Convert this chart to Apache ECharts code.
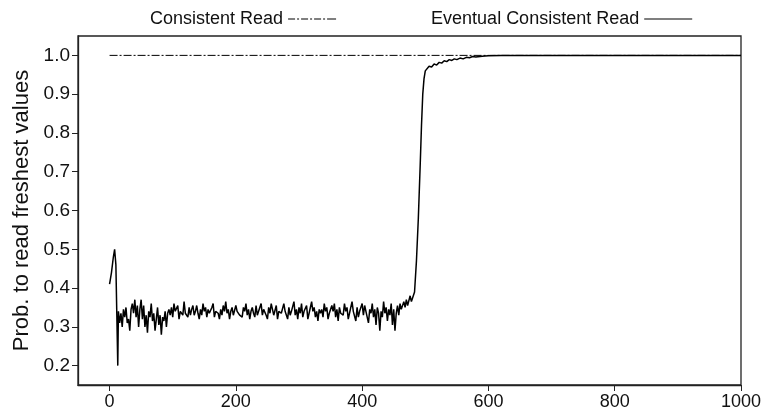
<!DOCTYPE html>
<html>
<head>
<meta charset="utf-8">
<script src="https://cdn.jsdelivr.net/npm/echarts@6/dist/echarts.min.js"></script>
<style>
html,body{margin:0;padding:0;background:#fff;}
#chart{width:765px;height:414px;}
</style>
</head>
<body>
<div id="chart"></div>
<script>
var seriesNames = ['Consistent Read', 'Eventual Consistent Read'];
var xTicks = [0, 200, 400, 600, 800, 1000];
var yTicks = [0.2, 0.3, 0.4, 0.5, 0.6, 0.7, 0.8, 0.9, 1.0];

var consistentX = [0, 1000];
var consistentY = [1.0, 1.0];

var eventualX = [
  0, 3, 6, 8, 10, 11.5, 13,
  14, 16, 18, 20, 22, 24, 26, 28, 30, 32, 34, 36, 38, 40, 42, 44, 46, 48, 50, 52,
  54, 56, 58, 60, 62, 64, 66, 68, 70, 72, 74, 76, 78, 80, 82, 84, 86, 88, 90, 92,
  94, 96, 98, 100, 102, 104, 106, 108, 110, 112, 114, 116, 118, 120, 122, 124, 126, 128, 130, 132,
  134, 136, 138, 140, 142, 144, 146, 148, 150, 152, 154, 156, 158, 160, 162, 164, 166, 168, 170, 172,
  174, 176, 178, 180, 182, 184, 186, 188, 190, 192, 194, 196, 198, 200, 202, 204, 206, 208, 210, 212,
  214, 216, 218, 220, 222, 224, 226, 228, 230, 232, 234, 236, 238, 240, 242, 244, 246, 248, 250, 252,
  254, 256, 258, 260, 262, 264, 266, 268, 270, 272, 274, 276, 278, 280, 282, 284, 286, 288, 290, 292,
  294, 296, 298, 300, 302, 304, 306, 308, 310, 312, 314, 316, 318, 320, 322, 324, 326, 328, 330, 332,
  334, 336, 338, 340, 342, 344, 346, 348, 350, 352, 354, 356, 358, 360, 362, 364, 366, 368, 370, 372,
  374, 376, 378, 380, 382, 384, 386, 388, 390, 392, 394, 396, 398, 400, 402, 404, 406, 408, 410, 412,
  414, 416, 418, 420, 422, 424, 426, 428, 430, 432, 434, 436, 438, 440, 442, 444, 446, 448, 450, 452,
  454, 456, 458, 460, 462, 464, 466, 468, 470, 472, 474, 476, 478, 480,
  483, 486, 489, 492, 494, 496, 498, 500, 502, 506, 510, 514, 518, 522, 526, 530, 534, 538, 542, 546,
  550, 555, 560, 565, 570, 575, 580, 590, 600, 620, 1000
];
var eventualY = [
  0.41, 0.44, 0.48, 0.50, 0.46, 0.33, 0.20,
  0.34, 0.31, 0.335, 0.30, 0.345, 0.325, 0.35, 0.31, 0.32, 0.29, 0.345, 0.36, 0.335, 0.37, 0.325, 0.355, 0.30, 0.345, 0.37, 0.32,
  0.355, 0.30, 0.33, 0.285, 0.34, 0.325, 0.36, 0.315, 0.335, 0.29, 0.32, 0.35, 0.305, 0.33, 0.28, 0.325, 0.315, 0.34, 0.30, 0.335,
  0.345, 0.33, 0.35, 0.325, 0.36, 0.34, 0.335, 0.355, 0.32, 0.34, 0.345, 0.33, 0.365, 0.335, 0.34, 0.325, 0.35, 0.33, 0.345, 0.355,
  0.33, 0.34, 0.355, 0.335, 0.32, 0.345, 0.33, 0.36, 0.34, 0.35, 0.325, 0.345, 0.335, 0.33, 0.35, 0.36, 0.325, 0.34, 0.345, 0.335,
  0.32, 0.345, 0.33, 0.355, 0.34, 0.365, 0.335, 0.345, 0.32, 0.34, 0.35, 0.33, 0.325, 0.355, 0.34, 0.345, 0.33, 0.335, 0.325, 0.35,
  0.34, 0.36, 0.33, 0.345, 0.32, 0.34, 0.35, 0.335, 0.325, 0.355, 0.33, 0.34, 0.345, 0.36, 0.33, 0.345, 0.34, 0.33, 0.32, 0.35,
  0.335, 0.36, 0.345, 0.33, 0.325, 0.355, 0.32, 0.34, 0.345, 0.335, 0.33, 0.36, 0.34, 0.345, 0.32, 0.35, 0.33, 0.34, 0.335, 0.365,
  0.33, 0.345, 0.32, 0.35, 0.335, 0.36, 0.325, 0.34, 0.345, 0.355, 0.32, 0.335, 0.33, 0.365, 0.34, 0.35, 0.325, 0.34, 0.315, 0.345,
  0.335, 0.345, 0.325, 0.36, 0.34, 0.35, 0.32, 0.335, 0.33, 0.355, 0.34, 0.36, 0.325, 0.345, 0.315, 0.35, 0.335, 0.34, 0.33, 0.36,
  0.34, 0.35, 0.32, 0.335, 0.33, 0.365, 0.34, 0.345, 0.315, 0.35, 0.325, 0.34, 0.345, 0.36, 0.33, 0.355, 0.34, 0.335, 0.31, 0.345,
  0.335, 0.36, 0.325, 0.345, 0.305, 0.35, 0.335, 0.29, 0.34, 0.325, 0.365, 0.335, 0.35, 0.315, 0.345, 0.33, 0.36, 0.305, 0.345, 0.29,
  0.335, 0.355, 0.33, 0.36, 0.345, 0.34, 0.365, 0.35, 0.37, 0.355, 0.36, 0.38, 0.365, 0.375,
  0.39, 0.47, 0.58, 0.72, 0.82, 0.90, 0.94, 0.96, 0.965, 0.972, 0.970, 0.978, 0.975, 0.982, 0.980, 0.986, 0.984, 0.989, 0.987, 0.991,
  0.989, 0.993, 0.991, 0.995, 0.994, 0.997, 0.996, 0.998, 0.999, 1.0, 1.0
];

function pairs(xs, ys) {
  var out = [];
  for (var i = 0; i < xs.length; i++) out.push([xs[i], ys[i]]);
  return out;
}

var FONT = "'Liberation Sans', Arial, sans-serif";
var TXT = '#111';
var ICON_DASHDOT = 'path://M0,0h7v1h-7z M9,0h2v1h-2z M13,0h7v1h-7z M22,0h2v1h-2z M26,0h7v1h-7z M35,0h2v1h-2z M39,0h9v1h-9z';
var ICON_SOLID = 'path://M0,0h48v1h-48z';

var chart = echarts.init(document.getElementById('chart'), null, {renderer: 'canvas'});
chart.setOption({
  animation: false,
  backgroundColor: '#fff',
  grid: {
    left: 78, right: 24, top: 36, bottom: 29,
    outerBoundsMode: 'none',
    show: true, borderColor: '#222', borderWidth: 1.3, backgroundColor: 'transparent'
  },
  legend: {
    left: 145, top: 5, width: 620,
    orient: 'horizontal',
    align: 'right',
    itemWidth: 48, itemHeight: 1.5, itemGap: 95,
    textStyle: {fontSize: 18, color: TXT, fontFamily: FONT},
    data: [
      {name: seriesNames[0], icon: ICON_DASHDOT},
      {name: seriesNames[1], icon: ICON_SOLID}
    ]
  },
  xAxis: {
    type: 'value', min: -50, max: 1000,
    axisLine: {show: true, onZero: false, lineStyle: {color: '#222', width: 1.3}},
    axisTick: {show: true, length: 6, customValues: xTicks, lineStyle: {color: '#222'}},
    axisLabel: {customValues: xTicks, fontSize: 18, color: TXT, fontFamily: FONT, margin: 8,
      formatter: function (v) { return String(v); }},
    splitLine: {show: false}
  },
  yAxis: {
    type: 'value', min: 0.15, max: 1.05,
    name: 'Prob. to read freshest values',
    nameLocation: 'middle', nameGap: 44,
    nameTextStyle: {fontSize: 22, color: TXT, fontFamily: FONT},
    axisLine: {show: true, onZero: false, lineStyle: {color: '#222', width: 1.3}},
    axisTick: {show: true, length: 6, customValues: yTicks, lineStyle: {color: '#222'}},
    axisLabel: {customValues: yTicks, fontSize: 19, color: TXT, fontFamily: FONT, margin: 8,
      formatter: function (v) { return v.toFixed(1); }},
    splitLine: {show: false}
  },
  series: [
    {
      name: seriesNames[0], type: 'line', symbol: 'none',
      data: pairs(consistentX, consistentY),
      lineStyle: {color: '#000', width: 1, type: [8, 2, 2, 2]},
      itemStyle: {color: '#000'}
    },
    {
      name: seriesNames[1], type: 'line', symbol: 'none',
      data: pairs(eventualX, eventualY),
      lineStyle: {color: '#000', width: 1.5},
      itemStyle: {color: '#000'}
    }
  ]
});
</script>
</body>
</html>
